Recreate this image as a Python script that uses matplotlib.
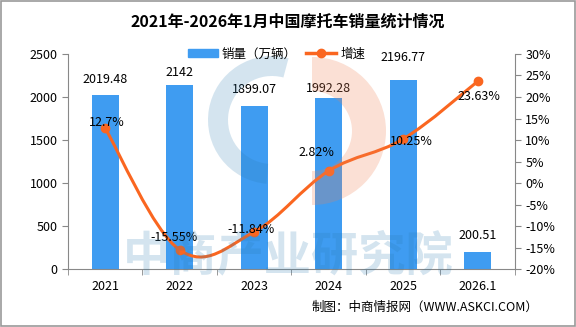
import numpy as np
import matplotlib.pyplot as plt
from matplotlib.path import Path
from matplotlib.patches import PathPatch, Patch, Wedge
from matplotlib.lines import Line2D

plt.rcParams['font.family'] = ['Noto Sans CJK SC', 'DejaVu Sans']

years = ['2021', '2022', '2023', '2024', '2025', '2026.1']
sales = [2019.48, 2142, 1899.07, 1992.28, 2196.77, 200.51]
growth = [12.7, -15.55, -11.34, 2.82, 10.25, 23.63]
sales_labels = ['2019.48', '2142', '1899.07', '1992.28', '2196.77', '200.51']
growth_labels = ['12.7%', '-15.55%', '-11.84%', '2.82%', '10.25%', '23.63%']

# label offsets in points (x, y)
sales_off = [(0, 11.5), (0, 8.6), (0, 12), (0, 6.5), (0, 16), (0, 11.5)]
growth_off = [(1, 4), (-4, 9), (-2, 2), (-9, 13), (6, -2), (1, -11)]

bar_color = '#3f9cf1'
line_color = '#fa6620'

fig = plt.figure(figsize=(5.76, 3.27), dpi=100)
ax = fig.add_axes([0.118, 0.177, 0.776, 0.658])
ax2 = ax.twinx()

x = np.arange(len(years))
ax.bar(x, sales, width=0.36, color=bar_color, zorder=2)
ax.set_xlim(-0.5, len(years) - 0.5)
ax.set_ylim(0, 2500)
ax.set_yticks(range(0, 2501, 500))
ax.set_xticks(x)
ax.set_xticklabels(years)
ax.set_xticks(np.arange(-0.5, len(years), 1), minor=True)
ax.tick_params(axis='x', which='major', length=0, pad=8)
ax.tick_params(axis='x', which='minor', length=4, color='#888888')
ax.tick_params(axis='y', length=4, color='#888888', direction='out')
for s in ['top', 'right']:
    ax.spines[s].set_visible(False)
for s in ['left', 'bottom']:
    ax.spines[s].set_color('#888888')
ax.tick_params(labelsize=9)

for i, v in enumerate(sales):
    ax.annotate(sales_labels[i], (x[i], v), xytext=sales_off[i], textcoords='offset points',
                ha='center', va='center', fontsize=9, zorder=5)

# smooth growth curve with cubic bezier segments
ax2.set_ylim(-20, 30)
ax2.set_yticks(range(-20, 31, 5))
ax2.set_yticklabels([f'{t}%' for t in range(-20, 31, 5)])
pts = np.column_stack([x, growth]).astype(float)
verts = [tuple(pts[0])]
codes = [Path.MOVETO]
k = 0.18
for i in range(len(pts) - 1):
    p0 = pts[i - 1] if i > 0 else pts[i]
    p1 = pts[i]
    p2 = pts[i + 1]
    p3 = pts[i + 2] if i + 2 < len(pts) else pts[i + 1]
    c1 = p1 + (p2 - p0) * k
    c2 = p2 - (p3 - p1) * k
    verts += [tuple(c1), tuple(c2), tuple(p2)]
    codes += [Path.CURVE4] * 3
ax2.add_patch(PathPatch(Path(verts, codes), fill=False, edgecolor=line_color, lw=2.2, zorder=3))
ax2.plot(x, growth, 'o', color=line_color, ms=6, zorder=4)
for i, v in enumerate(growth):
    ax2.annotate(growth_labels[i], (x[i], v), xytext=growth_off[i], textcoords='offset points',
                 ha='center', va='center', fontsize=9, zorder=5)

ax2.tick_params(axis='y', length=4, color='#888888', labelsize=9)
for s in ['top', 'left', 'bottom']:
    ax2.spines[s].set_visible(False)
ax2.spines['right'].set_color('#888888')

# watermark overlay (pixel coordinates, y downwards)
wm = fig.add_axes([0, 0, 1, 1], zorder=5)
wm.set_xlim(0, 576)
wm.set_ylim(327, 0)
wm.axis('off')
wm.add_patch(Wedge((272, 120), 64, 95, 285, width=20, color='#2a7ab0', alpha=0.2, lw=0))
wm.add_patch(Wedge((312, 131), 74, -90, 90, width=34, color='#ef8154', alpha=0.245, lw=0))
wm.text(288, 256, '中商产业研究院', fontsize=34, color='#2a7ab0', alpha=0.2,
        ha='center', va='center', fontweight='bold')

handles = [Patch(color=bar_color, label='销量（万辆）'),
           Line2D([0], [0], color=line_color, lw=2.5, marker='o', ms=6, label='增速')]
fig.legend(handles=handles, loc='center', bbox_to_anchor=(0.48, 0.835), ncol=2, frameon=False,
           fontsize=9, handlelength=2.4, handletextpad=0.3, columnspacing=0.8)

fig.text(0.5, 0.935, '2021年-2026年1月中国摩托车销量统计情况', ha='center', va='center',
         fontsize=11.5, fontweight='bold')
fig.text(0.935, 0.06, '制图：中商情报网（WWW.ASKCI.COM）', ha='right', va='center', fontsize=9)

fig.patches.append(plt.Rectangle((0.002, 0.003), 0.996, 0.994, transform=fig.transFigure,
                                 fill=False, edgecolor='#999999', lw=1.2))

fig.savefig('out.png', dpi=100)
